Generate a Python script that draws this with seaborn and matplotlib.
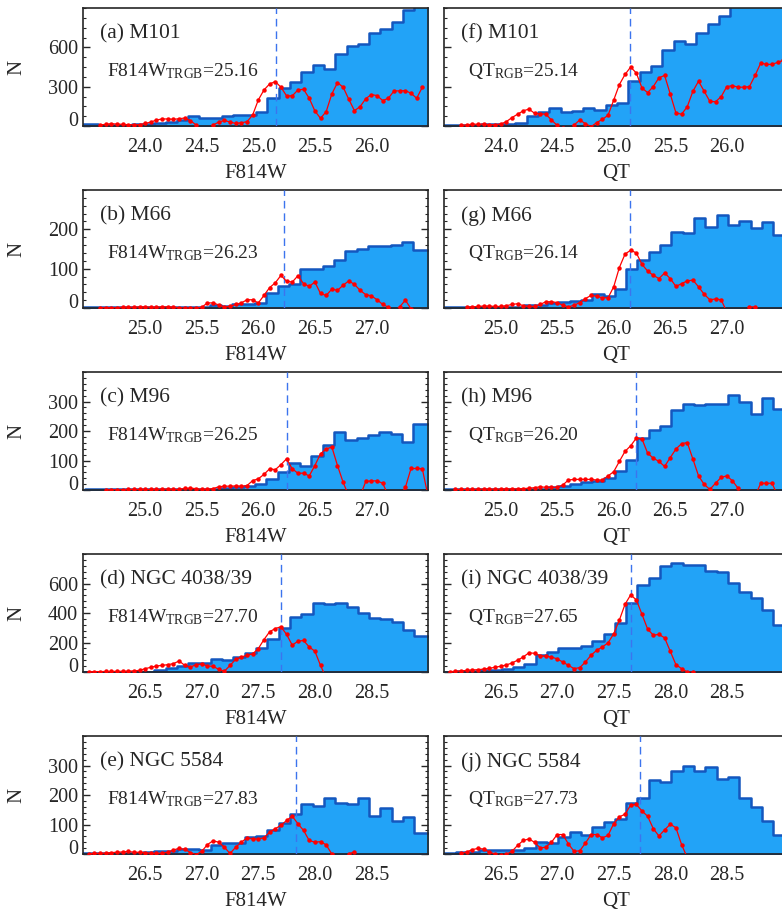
import numpy as np
import pandas as pd
import seaborn as sns
import matplotlib.pyplot as plt
from matplotlib.ticker import AutoMinorLocator

# ---------------- data ----------------
# luminosity functions: 0.1 mag bins, value = left edge of first bin
# edge-detection response (red): 0.05 mag steps, value = first point

galaxies = ["M101", "M66", "M96", "NGC 4038/39", "NGC 5584"]
f814w_trgb = [25.16, 26.23, 26.25, 27.70, 27.83]
qt_rgb = [25.14, 26.14, 26.20, 27.65, 27.73]

# (a) M101, F814W
a_hist_start = 23.38
a_hist = [15, 15, 8, 10, 10, 12, 15, 20, 30, 45, 80, 65, 65, 75, 85, 85, 110, 210,
          290, 335, 410, 465, 435, 550, 610, 625, 710, 740, 790, 885, 1000, 1000]
a_red_start = 23.60
a_red = [8, 13, 18, 15, 13, 10, 10, 10, 20, 30, 46, 54, 54, 51, 56, 61, 41, 8, -30, -30,
         8, 30, 43, 30, 20, 25, 33, 84, 199, 275, 321, 339, 296, 230, 230, 275, 280, 212,
         115, 59, 110, 245, 331, 296, 204, 117, 148, 209, 240, 232, 194, 212, 268, 268,
         270, 250, 212, 296]

# (b) M66, F814W
b_hist_start = 24.37
b_hist = [2, 2, 2, 2, 2, 2, 2, 2, 2, 3, 3, 3, 8, 5, 9, 11, 14, 38, 55, 62, 98, 100,
          106, 121, 144, 151, 158, 157, 159, 168, 147, 147]
b_red_start = 24.60
b_red = [1, 1, 1, 1, 2, 2, 2, 3, 3, 2, 2, 3, 3, 2, 1, 0, 0, 0, 2, 13, 13, 8, 3, 4, 9,
         13, 21, 21, 13, 32, 52, 64, 83, 68, 66, 82, 62, 55, 66, 37, 32, 48, 45, 58, 69,
         60, 45, 34, 31, 21, 9, 2, -8, 3, 20, -2, -10, -10]

# (c) M96, F814W
c_hist_start = 24.37
c_hist = [1, 2, 2, 2, 2, 2, 2, 3, 3, 3, 3, 3, 5, 8, 9, 12, 20, 38, 62, 90, 82, 116,
          152, 197, 168, 177, 185, 197, 190, 163, 225, 225]
c_red_start = 24.65
c_red = [1, 1, 1, 1, 2, 2, 2, 2, 2, 2, 3, 3, 2, 2, 6, 6, 5, 2, 3, 5, 11, 13, 13, 14, 13,
         15, 32, 38, 53, 72, 69, 86, 106, 72, 57, 57, 48, 83, 123, 139, 146, 83, 26, -20,
         -20, -20, 29, 31, 31, 23, -20, -20, -20, 9, 73, 73, 72, -20]

# (d) NGC 4038/39, F814W
d_hist_start = 25.88
d_hist = [3, 3, 3, 3, 3, 3, 3, 11, 27, 41, 61, 61, 86, 84, 102, 132, 164, 223, 300,
          375, 391, 470, 459, 466, 443, 398, 364, 357, 341, 284, 245, 245]
d_red_start = 26.00
d_red = [2, 3, 3, 4, 4, 5, 5, 6, 8, 11, 23, 32, 41, 45, 50, 57, 75, 45, 34, 50, 55, 41,
         39, 18, 5, 45, 86, 102, 114, 123, 159, 220, 273, 295, 307, 255, 182, 209, 214,
         170, 141, 45, -40]

# (e) NGC 5584, F814W
e_hist_start = 25.88
e_hist = [2, 2, 4, 5, 5, 5, 6, 9, 9, 16, 18, 14, 31, 37, 37, 57, 62, 80, 105, 134, 168,
          162, 189, 174, 171, 191, 128, 157, 112, 126, 71, 71]
e_red_start = 26.00
e_red = [1, 2, 2, 3, 5, 6, 7, 9, 6, 6, 5, 2, 2, 3, 6, 14, 19, 16, 5, -2, 9, 32, 45, 40,
         23, 2, 23, 40, 55, 51, 51, 55, 74, 86, 97, 114, 128, 103, 80, 46, 40, 42, 31, 0,
         -20, -20, 0, 8]

# (f) M101, QT
f_hist_start = 23.43
f_hist = [8, 8, 8, 10, 12, 13, 15, 26, 77, 108, 141, 108, 116, 134, 121, 162, 175, 342,
          411, 458, 578, 650, 622, 707, 779, 836, 1000, 1000, 1000, 1000, 1000, 1000]
f_red_start = 23.65
f_red = [5, 8, 15, 13, 15, 10, 10, 15, 33, 64, 90, 116, 129, 98, 93, 90, 46, 5, -13, -30,
         8, 46, 18, -5, 26, 51, 82, 198, 316, 393, 450, 404, 290, 255, 301, 368, 386, 244,
         100, 90, 147, 265, 342, 265, 188, 185, 224, 301, 308, 296, 296, 301, 386, 481,
         470, 470, 486, 501]

# (g) M66, QT
g_hist_start = 24.41
g_hist = [2, 2, 2, 2, 2, 2, 2, 2, 8, 8, 13, 15, 18, 20, 35, 30, 49, 98, 123, 143, 160,
          192, 190, 228, 207, 236, 211, 222, 204, 219, 185, 185]
g_red_start = 24.70
g_red = [2, 3, 4, 5, 5, 4, 4, 6, 9, 11, 6, 4, 4, 9, 16, 16, 14, 7, 3, 7, 14, 24, 32, 30,
         26, 26, 54, 103, 137, 147, 140, 111, 94, 83, 75, 89, 75, 55, 62, 69, 71, 54, 35,
         21, 23, 21, -10, -10, -10, -10, 3, 3, -10]

# (h) M96, QT
h_hist_start = 24.41
h_hist = [2, 2, 2, 2, 2, 2, 3, 3, 3, 4, 9, 14, 20, 27, 32, 40, 66, 102, 176, 204, 218,
          270, 292, 288, 290, 290, 321, 298, 256, 312, 273, 273]
h_red_start = 24.60
h_red = [2, 2, 2, 2, 3, 3, 3, 3, 3, 4, 4, 4, 5, 6, 8, 11, 9, 9, 9, 17, 34, 36, 36, 36,
         36, 34, 34, 48, 62, 97, 131, 150, 176, 173, 125, 108, 97, 80, 110, 139, 157, 161,
         105, 48, 19, 2, 23, 43, 48, 31, 6, -20, -20, -20, 23, 23, 23, -20]

# (i) NGC 4038/39, QT
i_hist_start = 25.91
i_hist = [3, 3, 5, 8, 11, 14, 18, 34, 57, 118, 136, 166, 164, 175, 209, 261, 330, 466,
          591, 636, 716, 739, 727, 727, 686, 677, 602, 541, 504, 420, 318, 318]
i_red_start = 26.05
i_red = [2, 5, 7, 11, 14, 16, 20, 25, 32, 39, 48, 61, 80, 102, 130, 127, 111, 107, 102,
         89, 68, 45, 23, 30, 68, 114, 148, 170, 198, 259, 352, 459, 523, 489, 391, 291,
         250, 255, 232, 141, 50, 23, 0, 0]

# (j) NGC 5584, QT
j_hist_start = 25.91
j_hist = [2, 3, 6, 6, 14, 14, 14, 15, 21, 40, 37, 57, 74, 66, 91, 109, 120, 174, 189,
          251, 243, 283, 297, 282, 295, 254, 261, 191, 160, 112, 66, 66]
j_red_start = 26.15
j_red = [2, 7, 15, 19, 17, 7, 0, -2, -1, 9, 29, 46, 51, 40, 21, 23, 40, 66, 66, 34, 9,
         11, 37, 66, 66, 55, 63, 103, 126, 135, 166, 168, 146, 128, 86, 61, 82, 101, 89,
         32, -12]

# ---------------- style ----------------
sns.set_style("ticks")
plt.rcParams["font.family"] = ["Liberation Serif", "DejaVu Serif"]
plt.rcParams["mathtext.fontset"] = "custom"
plt.rcParams["mathtext.rm"] = "Liberation Serif"
plt.rcParams["mathtext.it"] = "Liberation Serif:italic"
plt.rcParams["axes.linewidth"] = 1.2

FILL = "#22A3F7"
EDGE = "#1457BE"
DASH = "#3C74EE"

fig = plt.figure(figsize=(7.82, 9.10), dpi=100)

rows = [
    # letters, hist/red data, x starts (left, right), ymax, yticks, minor subdivisions
    (("a", "f"), (a_hist_start, a_hist, a_red_start, a_red),
     (f_hist_start, f_hist, f_red_start, f_red), (23.45, 23.50), 900, [0, 300, 600], 4),
    (("b", "g"), (b_hist_start, b_hist, b_red_start, b_red),
     (g_hist_start, g_hist, g_red_start, g_red), (24.45, 24.50), 300, [0, 100, 200], 5),
    (("c", "h"), (c_hist_start, c_hist, c_red_start, c_red),
     (h_hist_start, h_hist, h_red_start, h_red), (24.45, 24.50), 400, [0, 100, 200, 300], 5),
    (("d", "i"), (d_hist_start, d_hist, d_red_start, d_red),
     (i_hist_start, i_hist, i_red_start, i_red), (25.95, 26.00), 800, [0, 200, 400, 600], 5),
    (("e", "j"), (e_hist_start, e_hist, e_red_start, e_red),
     (j_hist_start, j_hist, j_red_start, j_red), (25.95, 26.00), 400, [0, 100, 200, 300], 5),
]

for r, (letters, left_data, right_data, x0s, ymax, yticks, nminor) in enumerate(rows):
    bottom = 0.8615 - 0.2 * r
    for col in range(2):
        hstart, hist, rstart, red = left_data if col == 0 else right_data
        x0 = x0s[col]
        x_left = [0.1061, 0.5678][col]
        ax = fig.add_axes([x_left, bottom, 0.4412, 0.1297])

        edges = hstart + 0.1 * np.arange(len(hist) + 1)
        lf = pd.DataFrame({"mag": edges[:-1] + 0.05, "n": hist})
        sns.histplot(data=lf, x="mag", weights="n", bins=list(edges), element="step",
                     fill=True, color=FILL, edgecolor=EDGE, linewidth=1.8, alpha=1,
                     ax=ax, zorder=2)

        tip = f814w_trgb[r] if col == 0 else qt_rgb[r]
        ax.axvline(tip, color=DASH, ls=(0, (5.5, 3.5)), lw=1.0, zorder=3)

        edge_df = pd.DataFrame({"mag": rstart + 0.05 * np.arange(len(red)), "resp": red})
        sns.lineplot(data=edge_df, x="mag", y="resp", color="red", lw=0.9, marker="o",
                     markersize=3.2, markeredgewidth=0, ax=ax, zorder=4)

        ax.set_xlim(x0, x0 + 3.05)
        ax.set_ylim(0, ymax)
        ax.set_yticks(yticks)
        ax.yaxis.set_minor_locator(AutoMinorLocator(nminor))
        ax.set_xticks(np.arange(np.ceil((x0 + 0.3) * 2) / 2, x0 + 2.9, 0.5))
        ax.xaxis.set_major_formatter(plt.FormatStrFormatter("%.1f"))
        ax.tick_params(axis="x", which="both", length=0, pad=8.5, labelsize=14.5)
        ax.tick_params(axis="y", which="major", direction="in", length=5, width=1,
                       left=True, right=True, pad=3.5, labelsize=14.5)
        ax.tick_params(axis="y", which="minor", direction="in", length=2.4, width=0.8,
                       left=True, right=True)
        # the lowest label sits on the axis instead of centred on it
        ax.yaxis.get_major_ticks()[0].label1.set_verticalalignment("baseline")

        band = "F814W" if col == 0 else "QT"
        ax.set_xlabel(band, fontsize=15, labelpad=5)
        if col == 0:
            ax.set_ylabel("N", fontsize=15)
            ax.yaxis.set_label_coords(-0.165, 0.5)
            tip_text = r"F814W$_{\mathrm{TRGB}}$=" + f"{tip:.2f}"
        else:
            ax.set_ylabel("")
            ax.tick_params(axis="y", labelleft=False)
            tip_text = r"QT$_{\mathrm{RGB}}$=" + f"{tip:.2f}"

        ax.text(0.05, 0.74, f"({letters[col]}) {galaxies[r]}", transform=ax.transAxes,
                fontsize=15.5, ha="left", va="baseline", zorder=5)
        ax.text(0.07, 0.42, tip_text, transform=ax.transAxes, fontsize=14,
                ha="left", va="baseline", zorder=5)

fig.savefig("out.png", dpi=100)
